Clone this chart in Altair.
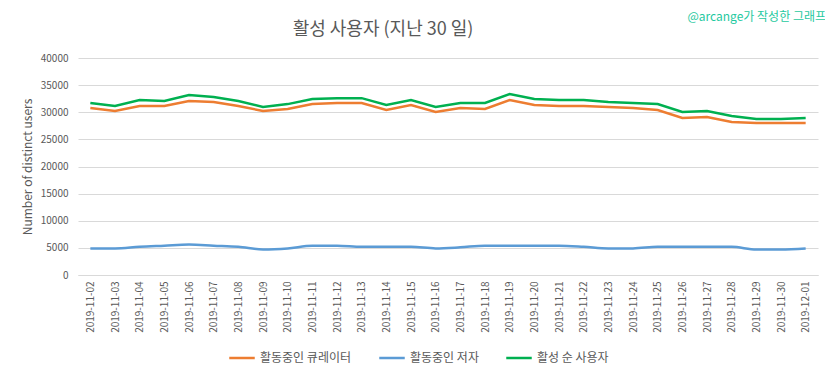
import altair as alt
import pandas as pd

dates = ["2019-11-02","2019-11-03","2019-11-04","2019-11-05","2019-11-06","2019-11-07",
         "2019-11-08","2019-11-09","2019-11-10","2019-11-11","2019-11-12","2019-11-13",
         "2019-11-14","2019-11-15","2019-11-16","2019-11-17","2019-11-18","2019-11-19",
         "2019-11-20","2019-11-21","2019-11-22","2019-11-23","2019-11-24","2019-11-25",
         "2019-11-26","2019-11-27","2019-11-28","2019-11-29","2019-11-30","2019-12-01"]

curators = [30780,30230,31150,31150,32070,31890,31150,30230,30600,31520,31700,31700,
            30420,31340,30050,30780,30600,32260,31340,31150,31150,30970,30780,30420,
            28940,29120,28200,28000,28000,28000]
authors = [4900,4900,5200,5400,5600,5400,5200,4700,4900,5400,5400,5200,
           5200,5200,4900,5100,5400,5400,5400,5400,5200,4900,4900,5200,
           5200,5200,5200,4700,4700,4900]
unique_users = [31700,31150,32260,32070,33180,32800,32070,30970,31500,32440,32600,32600,
                31340,32260,30970,31700,31700,33360,32440,32260,32260,31890,31700,31520,
                30050,30230,29300,28750,28750,28940]

series_names = ["활동중인 큐레이터", "활동중인 저자", "활성 순 사용자"]
series_colors = ["#ED7D31", "#5B9BD5", "#00B050"]

rows = []
for name, vals in zip(series_names, [curators, authors, unique_users]):
    for d, v in zip(dates, vals):
        rows.append({"date": d, "series": name, "value": v})
df = pd.DataFrame(rows)

FONT = "Noto Sans CJK KR"
GRAY = "#595959"

color = alt.Color("series:N",
                  scale=alt.Scale(domain=series_names, range=series_colors),
                  sort=series_names,
                  legend=alt.Legend(title=None, orient="none", legendX=150, legendY=286,
                                    direction="horizontal", symbolType="stroke",
                                    symbolSize=650, symbolStrokeWidth=2.5,
                                    labelFontSize=12, labelColor=GRAY, labelFont=FONT,
                                    columnPadding=22, labelOffset=4))

x = alt.X("date:O", sort=dates, title=None,
          scale=alt.Scale(type="point", padding=0.5),
          axis=alt.Axis(labelAngle=-90, labelFontSize=10, labelColor=GRAY, labelFont=FONT,
                        ticks=False, domainColor="#d9d9d9", labelPadding=6, grid=False))
y = alt.Y("value:Q", title="Number of distinct users",
          scale=alt.Scale(domain=[0, 40000]),
          axis=alt.Axis(values=list(range(0, 40001, 5000)), format="d", labelFontSize=10,
                        labelColor=GRAY, labelFont=FONT, ticks=False, domain=False,
                        gridColor="#d9d9d9", labelPadding=10, titleFontSize=12,
                        titleColor=GRAY, titleFont=FONT, titleFontWeight="normal",
                        titlePadding=6))

base = alt.Chart(df)
lines_straight = base.mark_line(strokeWidth=2.5).encode(x=x, y=y, color=color).transform_filter(
    alt.FieldOneOfPredicate(field="series", oneOf=[series_names[0]]))
lines_smooth = base.mark_line(strokeWidth=2.5, interpolate="monotone").encode(x=x, y=y, color=color).transform_filter(
    alt.FieldOneOfPredicate(field="series", oneOf=[series_names[1]]))
lines_top = base.mark_line(strokeWidth=2.5).encode(x=x, y=y, color=color).transform_filter(
    alt.FieldOneOfPredicate(field="series", oneOf=[series_names[2]]))

texts = pd.DataFrame({"t": ["활성 사용자 (지난 30 일)", "@arcange가 작성한 그래프"]})
title_text = alt.Chart(texts.iloc[[0]]).mark_text(
    align="center", baseline="middle", fontSize=18, font=FONT, color=GRAY
).encode(x=alt.value(305), y=alt.value(-28), text="t:N")
note = alt.Chart(texts.iloc[[1]]).mark_text(
    align="right", baseline="middle", fontSize=12, font=FONT, color="#1FC9A0"
).encode(x=alt.value(748), y=alt.value(-41), text="t:N")

chart = alt.layer(lines_straight, lines_smooth, lines_top, title_text, note).properties(
    width=740, height=217,
    autosize=alt.AutoSizeParams(type="none"),
    padding={"left": 70, "top": 50, "right": 7, "bottom": 100},
    background="white",
).configure_view(stroke=None)

chart.save("out.html", embed_options={"renderer": "svg", "actions": False})
